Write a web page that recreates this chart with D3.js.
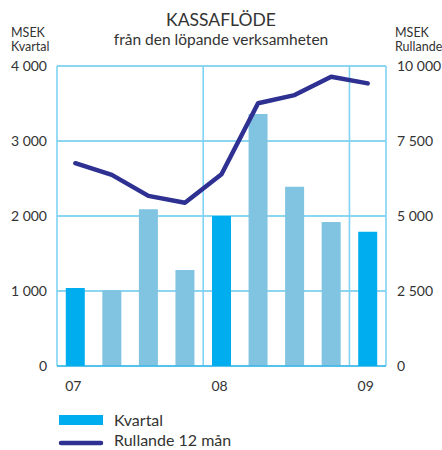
<!DOCTYPE html>
<html>
<head>
<meta charset="utf-8">
<script src="https://cdn.jsdelivr.net/npm/d3@7"></script>
<style>
  body { margin: 0; background: #fff; }
  text { font-family: Lato, "Open Sans", sans-serif; fill: #333; }
</style>
</head>
<body>
<div id="chart"></div>
<script>
// quarters from Q1 2007 to Q1 2009
var quarters = ["07Q1", "07Q2", "07Q3", "07Q4", "08Q1", "08Q2", "08Q3", "08Q4", "09Q1"];
var kvartal = [1040, 1010, 2090, 1280, 2000, 3360, 2390, 1920, 1790];
var rullande = [6760, 6370, 5670, 5440, 6390, 8760, 9030, 9640, 9420];
var yearLabels = [{q: "07Q1", label: "07"}, {q: "08Q1", label: "08"}, {q: "09Q1", label: "09"}];
var leftTicks = [0, 1000, 2000, 3000, 4000];
var rightTicks = [0, 2500, 5000, 7500, 10000];

var width = 442, height = 450;
var margin = {top: 66, right: 56, bottom: 84, left: 57};
var x0 = margin.left, x1 = width - margin.right;
var y0 = height - margin.bottom, y1 = margin.top;

var fmt = function(d) { return d3.format(",")(d).replace(/,/g, " "); };

var svg = d3.select("#chart").append("svg")
  .attr("width", width)
  .attr("height", height);

var x = d3.scaleBand()
  .domain(quarters)
  .range([x0, x1])
  .paddingInner(0.48)
  .paddingOuter(0.24);
var yL = d3.scaleLinear().domain([0, 4000]).range([y0, y1]);
var yR = d3.scaleLinear().domain([0, 10000]).range([y0, y1]);

// horizontal grid
svg.append("g").selectAll("line")
  .data(leftTicks)
  .enter().append("line")
    .attr("x1", x0).attr("x2", x1)
    .attr("y1", function(d) { return yL(d); })
    .attr("y2", function(d) { return yL(d); })
    .attr("stroke", "#1aaee6")
    .attr("stroke-width", 1.2);

// vertical lines: frame + year separators
var step = x.step();
var vlines = [x0, x(quarters[4]) - (step - x.bandwidth()) / 2, x(quarters[8]) - (step - x.bandwidth()) / 2, x1];
svg.append("g").selectAll("line")
  .data(vlines)
  .enter().append("line")
    .attr("x1", function(d) { return d; })
    .attr("x2", function(d) { return d; })
    .attr("y1", y1).attr("y2", y0)
    .attr("stroke", "#7fd3f5")
    .attr("stroke-width", 1.6);

// bars
svg.append("g").selectAll("rect")
  .data(kvartal)
  .enter().append("rect")
    .attr("x", function(d, i) { return x(quarters[i]); })
    .attr("y", function(d) { return yL(d); })
    .attr("width", x.bandwidth())
    .attr("height", function(d) { return y0 - yL(d); })
    .attr("fill", function(d, i) { return i % 4 == 0 ? "#00aeef" : "#80c4e2"; });

// bottom line over bars
svg.append("line")
  .attr("x1", x0).attr("x2", x1)
  .attr("y1", y0).attr("y2", y0)
  .attr("stroke", "#1aaee6").attr("stroke-width", 1.2);

// rolling 12 months line
var line = d3.line()
  .x(function(d, i) { return x(quarters[i]) + x.bandwidth() / 2; })
  .y(function(d) { return yR(d); });
svg.append("path")
  .datum(rullande)
  .attr("d", line)
  .attr("fill", "none")
  .attr("stroke", "#2e3192")
  .attr("stroke-width", 4.5)
  .attr("stroke-linecap", "round")
  .attr("stroke-linejoin", "round");

// left axis
svg.append("g").selectAll("text")
  .data(leftTicks)
  .enter().append("text")
    .attr("x", 47)
    .attr("y", function(d) { return yL(d) + 5; })
    .attr("text-anchor", "end")
    .style("font-size", "14px")
    .text(fmt);

// right axis
svg.append("g").selectAll("text")
  .data(rightTicks)
  .enter().append("text")
    .attr("x", 397)
    .attr("y", function(d) { return yR(d) + 5; })
    .style("font-size", "14px")
    .text(fmt);

// year labels
svg.append("g").selectAll("text")
  .data(yearLabels)
  .enter().append("text")
    .attr("x", function(d) { return x(d.q) + x.bandwidth() / 2 - 2; })
    .attr("y", 391)
    .attr("text-anchor", "middle")
    .style("font-size", "14px")
    .text(function(d) { return d.label; });

// titles
svg.append("text")
  .attr("x", 221).attr("y", 26)
  .attr("text-anchor", "middle")
  .style("font-size", "17.5px")
  .text("KASSAFLÖDE");
svg.append("text")
  .attr("x", 221).attr("y", 45)
  .attr("text-anchor", "middle")
  .style("font-size", "15.5px")
  .text("från den löpande verksamheten");

svg.append("text").attr("x", 11).attr("y", 37).style("font-size", "12.5px").text("MSEK");
svg.append("text").attr("x", 11).attr("y", 51).style("font-size", "12.5px").text("Kvartal");
svg.append("text").attr("x", 395).attr("y", 37).style("font-size", "12.5px").text("MSEK");
svg.append("text").attr("x", 395).attr("y", 51).style("font-size", "12.5px").text("Rullande");

// legend
svg.append("rect")
  .attr("x", 59).attr("y", 415)
  .attr("width", 44).attr("height", 10)
  .attr("fill", "#00aeef");
svg.append("text").attr("x", 114).attr("y", 426).style("font-size", "16px").text("Kvartal");
svg.append("line")
  .attr("x1", 61).attr("x2", 101)
  .attr("y1", 443).attr("y2", 443)
  .attr("stroke", "#2e3192").attr("stroke-width", 4.5)
  .attr("stroke-linecap", "round");
svg.append("text").attr("x", 114).attr("y", 446).style("font-size", "16px").text("Rullande 12 mån");
</script>
</body>
</html>
